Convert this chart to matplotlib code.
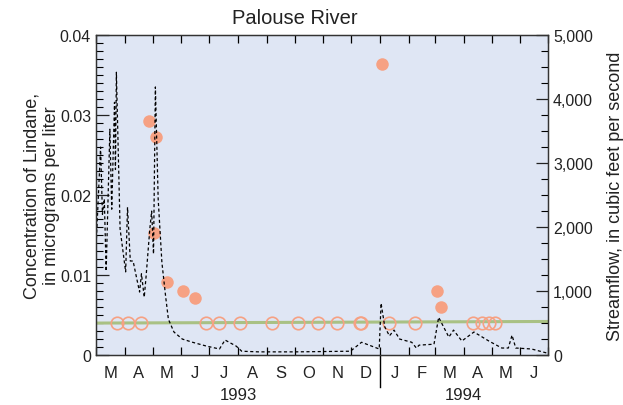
import matplotlib
matplotlib.use("Agg")
import matplotlib.pyplot as plt
import matplotlib.transforms as mtransforms
from matplotlib.ticker import FuncFormatter, MultipleLocator
import pandas as pd

plt.rcParams["font.family"] = ["Liberation Sans", "DejaVu Sans"]

# Daily streamflow (cubic feet per second)
flow_dates = [
    "1993-03-01", "1993-03-06", "1993-03-08", "1993-03-10", "1993-03-12",
    "1993-03-16", "1993-03-18", "1993-03-21", "1993-03-22", "1993-03-23",
    "1993-03-27", "1993-04-02", "1993-04-04", "1993-04-07", "1993-04-10",
    "1993-04-14", "1993-04-17", "1993-04-19", "1993-04-22", "1993-04-24",
    "1993-04-28", "1993-04-30", "1993-05-02", "1993-05-04", "1993-05-07",
    "1993-05-11", "1993-05-15", "1993-05-18", "1993-05-24", "1993-06-02",
    "1993-06-13", "1993-06-28", "1993-07-12", "1993-07-18", "1993-07-30",
    "1993-08-05", "1993-08-23", "1993-10-02", "1993-11-30", "1993-12-12",
    "1993-12-31", "1994-01-02", "1994-01-06", "1994-01-11", "1994-01-16",
    "1994-01-22", "1994-02-04", "1994-02-09", "1994-02-12", "1994-02-28",
    "1994-03-05", "1994-03-16", "1994-03-21", "1994-03-30", "1994-04-12",
    "1994-04-28", "1994-05-12", "1994-05-19", "1994-05-23", "1994-05-27",
    "1994-06-13", "1994-06-30",
]
flow_cfs = [
    1650, 3250, 2200, 2440, 1310,
    3530, 2280, 3950, 2900, 4420,
    1970, 1300, 2310, 1470, 1470,
    1190, 985, 1270, 905, 1230,
    1970, 2250, 1580, 4190, 2440,
    1450, 920, 560, 360, 250,
    200, 140, 95, 235, 140,
    60, 50, 50, 60, 200,
    95, 810, 440, 300, 390,
    250, 200, 110, 155, 170,
    590, 280, 390, 220, 360,
    220, 110, 110, 310, 110,
    95, 30,
]

# Lindane samples with detections (micrograms per liter)
detect_dates = [
    "1993-04-27", "1993-05-05", "1993-05-03", "1993-05-17", "1993-06-03",
    "1993-06-16", "1994-01-03", "1994-03-03", "1994-03-07",
]
detect_conc = [0.0293, 0.0273, 0.0153, 0.0091, 0.0080,
               0.0071, 0.0364, 0.0080, 0.0060]

# Samples below reporting level, plotted at the reporting level
nondetect_dates = [
    "1993-03-24", "1993-04-05", "1993-04-19", "1993-06-28", "1993-07-12",
    "1993-08-03", "1993-09-07", "1993-10-05", "1993-10-26", "1993-11-16",
    "1993-12-10", "1993-12-11", "1994-01-11", "1994-02-07", "1994-04-11",
    "1994-04-21", "1994-04-28", "1994-05-05",
]
nondetect_conc = [0.004] * len(nondetect_dates)

# Reference line (slight trend)
ref_dates = ["1993-03-01", "1994-07-01"]
ref_conc = [0.0040, 0.0042]

month_letters = ["M", "A", "M", "J", "J", "A", "S", "O", "N", "D",
                 "J", "F", "M", "A", "M", "J"]

flow_dates = pd.to_datetime(flow_dates)
detect_dates = pd.to_datetime(detect_dates)
nondetect_dates = pd.to_datetime(nondetect_dates)
ref_dates = pd.to_datetime(ref_dates)

bg = "#dfe6f4"
salmon = "#f6a183"
green = "#a9c184"
txt = "#222222"

fig = plt.figure(figsize=(6.23, 4.06), dpi=100)
ax = fig.add_axes([0.154, 0.123, 0.726, 0.788])
ax.set_facecolor(bg)
ax2 = ax.twinx()

ax.plot(ref_dates, ref_conc, color=green, lw=2.2, zorder=2)
ax.plot(nondetect_dates, nondetect_conc, "o", ms=9, mfc="none",
        mec=salmon, mew=1.2, zorder=3)
ax.plot(detect_dates, detect_conc, "o", ms=9, color=salmon,
        mec="none", zorder=3)

ax2.plot(flow_dates, flow_cfs, color="black", lw=0.9,
         linestyle=(0, (2.5, 2)))

x0 = pd.Timestamp("1993-03-01")
x1 = pd.Timestamp("1994-07-01")
ax.set_xlim(x0, x1)
ax.set_ylim(0, 0.04)
ax2.set_ylim(0, 5000)

# month boundary ticks, letters centred in each month
starts = pd.date_range(x0, x1, freq="MS")
mids = starts[:-1] + (starts[1:] - starts[:-1]) / 2
ax.set_xticks(starts)
ax.set_xticklabels([])
ax.set_xticks(mids, minor=True)
ax.set_xticklabels(month_letters, minor=True)
ax.tick_params(axis="x", which="major", direction="in", length=6,
               top=True, width=0.9)
ax.tick_params(axis="x", which="minor", length=0, pad=7, labelsize=12,
               colors=txt)

ax.yaxis.set_major_locator(MultipleLocator(0.01))
ax.yaxis.set_minor_locator(MultipleLocator(0.001))
ax.yaxis.set_major_formatter(FuncFormatter(
    lambda v, p: "0" if v == 0 else f"{v:.2f}"))
ax.tick_params(axis="y", which="major", direction="in", length=9,
               labelsize=11.5, width=0.9, colors=txt)
ax.tick_params(axis="y", which="minor", direction="in", length=5, width=0.8)

ax2.yaxis.set_major_locator(MultipleLocator(1000))
ax2.yaxis.set_minor_locator(MultipleLocator(250))
ax2.yaxis.set_major_formatter(FuncFormatter(lambda v, p: f"{v:,.0f}"))
ax2.tick_params(axis="y", which="major", direction="in", length=9,
                labelsize=11.5, width=0.9, colors=txt)
ax2.tick_params(axis="y", which="minor", direction="in", length=5, width=0.8)

for a in (ax, ax2):
    for s in a.spines.values():
        s.set_linewidth(0.9)
        s.set_color("#333333")

# year divider below axis and year labels
trans = mtransforms.blended_transform_factory(ax.transData, ax.transAxes)
jan94 = pd.Timestamp("1994-01-01")
ax.plot([jan94, jan94], [0, -0.1], color="black", lw=1.0,
        transform=trans, clip_on=False)
ax.text(pd.Timestamp("1993-08-01"), -0.122, "1993", transform=trans,
        ha="center", va="center", fontsize=12, color=txt)
ax.text(pd.Timestamp("1994-04-01"), -0.122, "1994", transform=trans,
        ha="center", va="center", fontsize=12, color=txt)

ax.set_title("Palouse River", fontsize=14.5, x=0.44, y=1.0, pad=9,
             color=txt)
ax.set_ylabel("Concentration of Lindane,\nin micrograms per liter",
              fontsize=13, labelpad=0, color=txt)
ax2.set_ylabel("Streamflow, in cubic feet per second", fontsize=13,
               labelpad=10, color=txt)

fig.savefig("out.png", dpi=100, facecolor="white")
